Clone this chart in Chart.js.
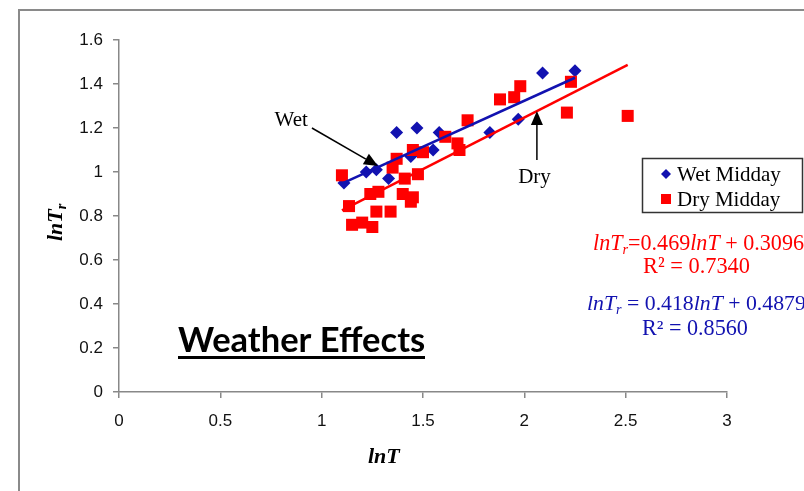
<!DOCTYPE html>
<html>
<head>
<meta charset="utf-8">
<script src="https://cdn.jsdelivr.net/npm/chart.js@4.4.1/dist/chart.umd.min.js"></script>
<style>
  html, body { margin: 0; padding: 0; background: #fff; }
  #wrap { width: 804px; height: 491px; position: relative; }
</style>
</head>
<body>
<div id="wrap"><canvas id="chart" width="804" height="491"></canvas></div>
<script>
// Wet Midday (blue diamonds)
const wetX = [1.11, 1.22, 1.27, 1.33, 1.37, 1.44, 1.47, 1.55, 1.58, 1.83, 1.97, 2.09, 2.25];
const wetY = [0.95, 1.00, 1.01, 0.97, 1.18, 1.07, 1.20, 1.10, 1.18, 1.18, 1.24, 1.45, 1.46];

// Dry Midday (red squares)
const dryX = [1.10, 1.135, 1.15, 1.20, 1.25, 1.24, 1.28, 1.27, 1.34, 1.40, 1.41, 1.45, 1.44, 1.475,
              1.35, 1.37, 1.45, 1.50, 1.61, 1.67, 1.68, 1.72, 1.88, 1.95, 1.98, 2.23, 2.21, 2.51];
const dryY = [0.985, 0.845, 0.76, 0.77, 0.75, 0.90, 0.91, 0.82, 0.82, 0.90, 0.97, 0.885, 0.865, 0.99,
              1.02, 1.06, 1.10, 1.09, 1.16, 1.13, 1.10, 1.235, 1.33, 1.34, 1.39, 1.41, 1.27, 1.255];

// Linear trendlines as printed on the chart
const wetFit = { slope: '0.418', intercept: '0.4879', r2: '0.8560' };
const dryFit = { slope: '0.469', intercept: '0.3096', r2: '0.7340' };

const xTicks = [0, 0.5, 1, 1.5, 2, 2.5, 3];
const xTickLabels = ['0', '0.5', '1', '1.5', '2', '2.5', '3'];
const yTicks = [0, 0.2, 0.4, 0.6, 0.8, 1, 1.2, 1.4, 1.6];
const yTickLabels = ['0', '0.2', '0.4', '0.6', '0.8', '1', '1.2', '1.4', '1.6'];

const BLUE = '#1212b0';
const RED = '#ff0000';
const SERIF = '"Liberation Serif", "DejaVu Serif", serif';
const SANS = '"Liberation Sans", Arial, sans-serif';

function toPoints(xs, ys) {
  return xs.map((x, i) => ({ x: x, y: ys[i] }));
}

function fitLine(xs, fit) {
  const m = parseFloat(fit.slope), b = parseFloat(fit.intercept);
  const x0 = Math.min(...xs), x1 = Math.max(...xs);
  return [{ x: x0, y: m * x0 + b }, { x: x1, y: m * x1 + b }];
}

function runFont(r, size) {
  const s = r.sub ? size * 0.65 : size;
  return (r.italic ? 'italic ' : '') + (r.bold ? 'bold ' : '') + s.toFixed(2) + 'px ' + SERIF;
}

function runsWidth(ctx, runs, size) {
  let w = 0;
  runs.forEach(r => { ctx.font = runFont(r, size); w += ctx.measureText(r.t).width; });
  return w;
}

// Draw text made of italic / plain / subscript runs; optional target width
function drawRuns(ctx, runs, x, y, size, color, width) {
  if (width) size = size * width / runsWidth(ctx, runs, size);
  ctx.fillStyle = color;
  ctx.textBaseline = 'alphabetic';
  ctx.textAlign = 'left';
  runs.forEach(r => {
    ctx.font = runFont(r, size);
    ctx.fillText(r.t, x, r.sub ? y + size * 0.2 : y);
    x += ctx.measureText(r.t).width;
  });
}

function arrow(ctx, x0, y0, x1, y1) {
  const a = Math.atan2(y1 - y0, x1 - x0);
  const len = 14, half = 6;
  const bx = x1 - Math.cos(a) * len, by = y1 - Math.sin(a) * len;
  ctx.strokeStyle = '#000';
  ctx.fillStyle = '#000';
  ctx.lineWidth = 1.5;
  ctx.beginPath();
  ctx.moveTo(x0, y0);
  ctx.lineTo(bx, by);
  ctx.stroke();
  ctx.beginPath();
  ctx.moveTo(x1, y1);
  ctx.lineTo(bx + Math.sin(a) * half, by - Math.cos(a) * half);
  ctx.lineTo(bx - Math.sin(a) * half, by + Math.cos(a) * half);
  ctx.closePath();
  ctx.fill();
}

const decorations = {
  id: 'decorations',
  beforeDraw(chart) {
    const ctx = chart.ctx;
    ctx.save();
    ctx.strokeStyle = '#8a8a8a';
    ctx.lineWidth = 2;
    ctx.beginPath();
    ctx.moveTo(19, 491);
    ctx.lineTo(19, 10);
    ctx.lineTo(804, 10);
    ctx.stroke();
    ctx.restore();
  },
  afterDatasetsDraw(chart) {
    const ctx = chart.ctx;
    const xs = chart.scales.x, ys = chart.scales.y;
    const px = v => xs.getPixelForValue(v);
    const py = v => ys.getPixelForValue(v);
    ctx.save();

    // Arrows with labels
    arrow(ctx, px(0.952), py(1.2), px(1.278), py(1.027));
    arrow(ctx, px(2.062), py(1.055), px(2.062), py(1.277));
    ctx.fillStyle = '#000';
    ctx.font = '21px ' + SERIF;
    ctx.textAlign = 'center';
    ctx.textBaseline = 'middle';
    ctx.fillText('Wet', px(0.85), py(1.235));
    ctx.fillText('Dry', px(2.05), py(0.975));

    // Legend box
    ctx.strokeStyle = '#333';
    ctx.lineWidth = 1.5;
    ctx.strokeRect(642.5, 158.5, 160, 54);
    ctx.fillStyle = BLUE;
    ctx.beginPath();
    ctx.moveTo(666, 169); ctx.lineTo(671, 174); ctx.lineTo(666, 179); ctx.lineTo(661, 174);
    ctx.closePath(); ctx.fill();
    ctx.fillStyle = RED;
    ctx.fillRect(661, 194, 10, 10);
    ctx.fillStyle = '#000';
    ctx.font = '21px ' + SERIF;
    ctx.textAlign = 'left';
    ctx.textBaseline = 'alphabetic';
    ctx.fillText('Wet Midday', 677, 181);
    ctx.fillText('Dry Midday', 677, 206);

    // Trendline equations
    drawRuns(ctx, [
      { t: 'lnT', italic: true }, { t: 'r', italic: true, sub: true },
      { t: '=' + dryFit.slope }, { t: 'lnT', italic: true }, { t: ' + ' + dryFit.intercept }
    ], 593, 250, 21, RED, 211);
    drawRuns(ctx, [{ t: 'R² = ' + dryFit.r2 }], 643, 273, 21, RED, 107);
    drawRuns(ctx, [
      { t: 'lnT', italic: true }, { t: 'r', italic: true, sub: true },
      { t: ' = ' + wetFit.slope }, { t: 'lnT', italic: true }, { t: ' + ' + wetFit.intercept }
    ], 587, 310, 21, BLUE, 219);
    drawRuns(ctx, [{ t: 'R² = ' + wetFit.r2 }], 642, 335, 21, BLUE, 106);

    // Title, fitted to its width in the picture
    const title = 'Weather Effects';
    ctx.fillStyle = '#000';
    ctx.font = 'bold 30px Lato, "Open Sans", sans-serif';
    const w = ctx.measureText(title).width;
    const size = 30 * 247 / w;
    ctx.font = 'bold ' + size.toFixed(1) + 'px Lato, "Open Sans", sans-serif';
    ctx.textAlign = 'left';
    ctx.fillText(title, 178, 352);
    ctx.fillRect(178, 356, 247, 3);

    // Axis titles
    drawRuns(ctx, [{ t: 'lnT', italic: true, bold: true }], 368, 463, 22, '#000');
    ctx.save();
    ctx.translate(62, 241);
    ctx.rotate(-Math.PI / 2);
    drawRuns(ctx, [{ t: 'lnT', italic: true, bold: true }, { t: 'r', italic: true, bold: true, sub: true }], 0, 0, 22, '#000');
    ctx.restore();

    ctx.restore();
  }
};

new Chart(document.getElementById('chart'), {
  type: 'scatter',
  data: {
    datasets: [
      {
        label: 'Wet Midday trend',
        type: 'line',
        data: fitLine(wetX, wetFit),
        borderColor: BLUE,
        borderWidth: 2.5,
        pointRadius: 0,
        fill: false,
        order: 0
      },
      {
        label: 'Dry Midday trend',
        type: 'line',
        data: fitLine(dryX, dryFit),
        borderColor: RED,
        borderWidth: 2.5,
        pointRadius: 0,
        fill: false,
        order: 0
      },
      {
        label: 'Dry Midday',
        data: toPoints(dryX, dryY),
        pointStyle: 'rect',
        pointRadius: 8.5,
        backgroundColor: RED,
        borderWidth: 0,
        order: 1
      },
      {
        label: 'Wet Midday',
        data: toPoints(wetX, wetY),
        pointStyle: 'rectRot',
        pointRadius: 6.5,
        backgroundColor: BLUE,
        borderWidth: 0,
        order: 2
      }
    ]
  },
  options: {
    responsive: false,
    animation: false,
    events: [],
    layout: { padding: { left: 0, right: 77, top: 40, bottom: 0 } },
    plugins: {
      legend: { display: false },
      tooltip: { enabled: false }
    },
    scales: {
      x: {
        type: 'linear',
        min: 0,
        max: 3,
        afterBuildTicks: s => { s.ticks = xTicks.map(v => ({ value: v })); },
        afterFit: s => { s.height = 99; },
        ticks: {
          callback: (v, i) => xTickLabels[i],
          color: '#111',
          font: { family: SANS, size: 17 },
          padding: 13
        },
        grid: { drawOnChartArea: false, color: '#888', tickLength: 6, lineWidth: 1.5 },
        border: { color: '#888', width: 1.5 }
      },
      y: {
        type: 'linear',
        min: 0,
        max: 1.6,
        afterBuildTicks: s => { s.ticks = yTicks.map(v => ({ value: v })); },
        afterFit: s => { s.width = 119; },
        ticks: {
          callback: (v, i) => yTickLabels[i],
          color: '#111',
          font: { family: SANS, size: 17 },
          padding: 10
        },
        grid: { drawOnChartArea: false, color: '#888', tickLength: 6, lineWidth: 1.5 },
        border: { color: '#888', width: 1.5 }
      }
    }
  },
  plugins: [decorations]
});
</script>
</body>
</html>
